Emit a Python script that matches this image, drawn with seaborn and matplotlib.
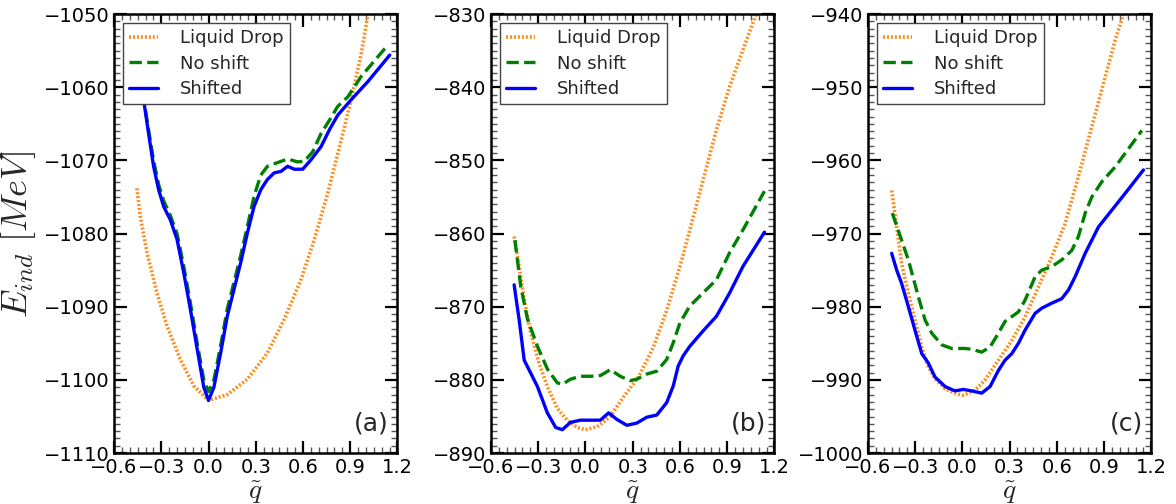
import numpy as np
import pandas as pd
import matplotlib
matplotlib.use("Agg")
import matplotlib.pyplot as plt
import seaborn as sns
from matplotlib.ticker import MultipleLocator

# ---------------- data ----------------
# Panel (a)
a_ld_q = [-0.455, -0.434, -0.391, -0.328, -0.264, -0.179, -0.094, 0.0, 0.119, 0.247, 0.374,
          0.481, 0.587, 0.672, 0.757, 0.843, 0.906, 0.970, 1.013]
a_ld_e = [-1073.8, -1077.6, -1082.6, -1088.1, -1092.6, -1097.2, -1100.8, -1102.8, -1102.0,
          -1099.9, -1096.3, -1091.7, -1086.3, -1080.8, -1074.5, -1067.2, -1061.7, -1055.4, -1050.0]
a_sh_q = [-0.45, -0.409, -0.381, -0.349, -0.317, -0.285, -0.243, -0.200, -0.157, -0.115, -0.072,
          -0.030, 0.0, 0.034, 0.077, 0.119, 0.162, 0.204, 0.247, 0.289, 0.332, 0.374, 0.417,
          0.460, 0.502, 0.545, 0.598, 0.651, 0.715, 0.768, 0.821, 0.906, 1.013, 1.151]
a_sh_e = [-1056.0, -1062.2, -1066.3, -1070.8, -1074.0, -1076.3, -1078.1, -1080.8, -1085.4,
          -1090.4, -1095.8, -1101.0, -1102.8, -1101.0, -1096.3, -1091.3, -1087.6, -1084.0,
          -1079.9, -1076.3, -1074.0, -1072.6, -1071.7, -1071.5, -1070.8, -1071.2, -1071.2,
          -1069.9, -1068.1, -1065.8, -1063.8, -1061.7, -1059.2, -1055.6]
a_ns_q = [-0.45, -0.409, -0.381, -0.349, -0.317, -0.285, -0.243, -0.200, -0.157, -0.115, -0.072,
          -0.030, 0.0, 0.034, 0.077, 0.119, 0.162, 0.204, 0.247, 0.289, 0.332, 0.374, 0.438,
          0.502, 0.566, 0.609, 0.662, 0.715, 0.768, 0.821, 0.885, 0.970, 1.140]
a_ns_e = [-1056.0, -1062.0, -1065.8, -1070.0, -1073.3, -1075.5, -1077.5, -1080.0, -1084.5,
          -1089.5, -1095.0, -1100.0, -1101.6, -1100.0, -1095.3, -1090.3, -1086.6, -1083.0,
          -1079.0, -1074.9, -1072.0, -1070.8, -1070.3, -1069.8, -1070.2, -1070.1, -1068.8,
          -1066.3, -1064.5, -1062.6, -1061.3, -1058.5, -1054.2]

# Panel (b)
b_ld_q = [-0.453, -0.421, -0.389, -0.347, -0.295, -0.242, -0.179, -0.116, -0.053, 0.0, 0.074,
          0.158, 0.242, 0.337, 0.432, 0.516, 0.600, 0.663, 0.747, 0.832, 0.916, 1.000, 1.084]
b_ld_e = [-860.4, -864.5, -869.0, -873.6, -877.7, -880.9, -883.9, -885.5, -886.5, -886.8,
          -886.4, -885.0, -882.3, -879.6, -875.5, -870.5, -864.5, -859.5, -852.7, -845.8,
          -839.9, -834.9, -830.0]
b_sh_q = [-0.453, -0.421, -0.389, -0.347, -0.305, -0.242, -0.189, -0.147, -0.095, -0.032, 0.032,
          0.095, 0.147, 0.200, 0.263, 0.326, 0.389, 0.453, 0.516, 0.558, 0.589, 0.621, 0.663,
          0.747, 0.832, 0.916, 1.000, 1.137]
b_sh_e = [-867.0, -871.8, -877.3, -879.1, -880.9, -884.5, -886.5, -886.8, -885.8, -885.5,
          -885.5, -885.5, -884.5, -885.4, -886.2, -885.9, -885.1, -884.8, -883.1, -880.8,
          -878.1, -876.7, -875.4, -873.3, -871.3, -868.1, -864.5, -859.8]
b_ns_q = [-0.448, -0.411, -0.368, -0.305, -0.242, -0.179, -0.147, -0.095, -0.032, 0.032, 0.095,
          0.158, 0.221, 0.284, 0.326, 0.389, 0.453, 0.516, 0.558, 0.600, 0.663, 0.747, 0.832,
          0.916, 1.000, 1.137]
b_ns_e = [-860.9, -867.2, -871.7, -875.4, -878.5, -880.4, -880.6, -879.9, -879.5, -879.5,
          -879.4, -878.6, -879.5, -880.1, -879.9, -879.2, -878.8, -877.2, -874.9, -872.2,
          -869.9, -868.1, -866.3, -862.6, -859.5, -854.2]

# Panel (c)
c_ld_q = [-0.449, -0.417, -0.386, -0.343, -0.301, -0.258, -0.216, -0.174, -0.110, -0.047, 0.006,
          0.081, 0.144, 0.229, 0.314, 0.398, 0.483, 0.568, 0.653, 0.737, 0.822, 0.907, 0.970, 1.023]
c_ld_e = [-964.1, -969.1, -974.1, -978.2, -981.8, -985.5, -988.2, -989.8, -991.2, -991.8,
          -992.1, -991.4, -990.0, -987.3, -984.6, -981.4, -977.3, -973.2, -968.6, -962.2,
          -955.4, -948.6, -943.6, -940.0]
c_sh_q = [-0.449, -0.417, -0.386, -0.343, -0.301, -0.258, -0.216, -0.174, -0.110, -0.047, 0.006,
          0.059, 0.123, 0.176, 0.229, 0.271, 0.314, 0.356, 0.398, 0.462, 0.504, 0.568, 0.631,
          0.674, 0.716, 0.780, 0.864, 0.949, 1.034, 1.150]
c_sh_e = [-972.7, -975.0, -976.8, -980.0, -983.2, -986.4, -987.7, -989.6, -990.9, -991.5,
          -991.3, -991.5, -991.8, -990.9, -988.7, -987.3, -986.4, -985.0, -983.2, -980.9,
          -980.2, -979.5, -978.9, -977.7, -975.9, -972.7, -969.1, -966.8, -964.5, -961.3]
c_ns_q = [-0.445, -0.386, -0.343, -0.280, -0.237, -0.195, -0.131, -0.068, 0.017, 0.059, 0.123,
          0.176, 0.229, 0.271, 0.356, 0.398, 0.462, 0.504, 0.568, 0.631, 0.695, 0.737, 0.780,
          0.822, 0.886, 0.970, 1.140]
c_ns_e = [-967.2, -970.9, -973.6, -978.6, -981.8, -983.6, -985.2, -985.7, -985.7, -985.8,
          -986.2, -985.5, -983.6, -982.0, -980.7, -979.1, -975.9, -975.0, -974.5, -973.6,
          -972.3, -970.4, -967.2, -965.0, -962.9, -960.9, -955.9]

panel_labels = ["(a)", "(b)", "(c)"]
y_limits = [(-1110, -1050), (-890, -830), (-1000, -940)]
series_names = ["Liquid Drop", "No shift", "Shifted"]
x_ticks = [-0.6, -0.3, 0.0, 0.3, 0.6, 0.9, 1.2]

panels = [
    [(a_ld_q, a_ld_e), (a_ns_q, a_ns_e), (a_sh_q, a_sh_e)],
    [(b_ld_q, b_ld_e), (b_ns_q, b_ns_e), (b_sh_q, b_sh_e)],
    [(c_ld_q, c_ld_e), (c_ns_q, c_ns_e), (c_sh_q, c_sh_e)],
]

# ---------------- style ----------------
sns.set_style("ticks")
plt.rcParams["font.family"] = ["DejaVu Sans"]
plt.rcParams["mathtext.fontset"] = "cm"

colors = ["#ff8c1a", "#008000", "#0000ff"]
styles = [(0, (0.55, 0.55)), (0, (3.7, 1.6)), "-"]
widths = [2.6, 2.4, 2.4]

fig, axes = plt.subplots(1, 3, figsize=(11.76, 5.04), dpi=100)
fig.subplots_adjust(left=0.097, right=0.979, top=0.972, bottom=0.101, wspace=0.33)

for i, ax in enumerate(axes):
    for j, (q, e) in enumerate(panels[i]):
        df = pd.DataFrame({"q": q, "E": e})
        sns.lineplot(data=df, x="q", y="E", ax=ax, color=colors[j], linestyle=styles[j],
                     linewidth=widths[j], label=series_names[j], sort=False, estimator=None)
    ax.set_xlim(-0.6, 1.2)
    ax.set_ylim(*y_limits[i])
    ax.set_xticks(x_ticks)
    ax.set_xticklabels([f"{t:.1f}".replace("-", "\u2212") for t in x_ticks])
    ax.xaxis.set_minor_locator(MultipleLocator(0.05))
    ax.yaxis.set_major_locator(MultipleLocator(10))
    ax.yaxis.set_minor_locator(MultipleLocator(1))
    ax.tick_params(which="both", direction="in", top=True, right=True, labelsize=14, colors="black")
    ax.tick_params(which="major", length=9, width=1.6)
    ax.tick_params(which="minor", length=4.5, width=1.0, color="#555555")
    for s in ax.spines.values():
        s.set_linewidth(1.8)
        s.set_color("black")
    ax.set_xlabel(r"$\tilde{q}$", fontsize=20, labelpad=1)
    ax.set_ylabel("")
    leg = ax.legend(loc="upper left", fontsize=13, frameon=True, fancybox=False,
                    edgecolor="#444444", framealpha=1.0, handlelength=1.6,
                    handletextpad=1.2, borderpad=0.35, borderaxespad=0.5, labelspacing=0.4)
    leg.get_frame().set_linewidth(1.0)
    ax.text(0.97, 0.04, panel_labels[i], transform=ax.transAxes, ha="right", va="bottom",
            fontsize=18)

axes[0].set_ylabel(r"$E_{ind}\ [MeV]$", fontsize=26, labelpad=4)

fig.savefig("out.png", dpi=100)
